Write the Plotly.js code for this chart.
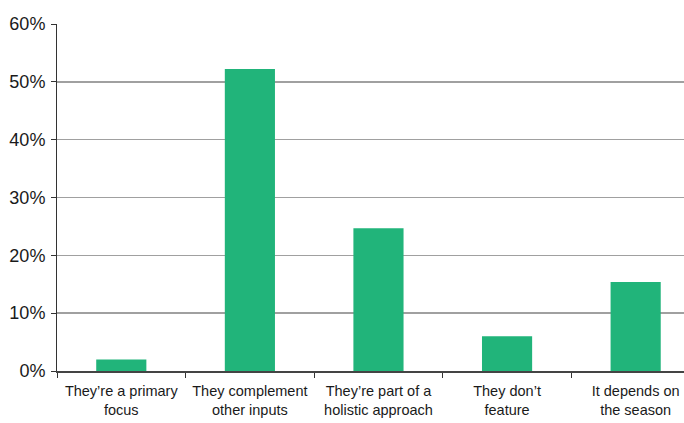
<!DOCTYPE html>
<html>
<head>
<meta charset="utf-8">
<script src="https://cdn.plot.ly/plotly-3.0.1.min.js"></script>
<style>html,body{margin:0;padding:0;background:#fff;}#chart{width:684px;height:423px;}</style>
</head>
<body>
<div id="chart"></div>
<script>
const categories = [
  "They’re a primary<br>focus",
  "They complement<br>other inputs",
  "They’re part of a<br>holistic approach",
  "They don’t<br>feature",
  "It depends on<br>the season"
];
const values = [0.02, 0.522, 0.247, 0.06, 0.154];
const yTickVals = [0, 0.1, 0.2, 0.3, 0.4, 0.5, 0.6];
const yTickText = ["0%", "10%", "20%", "30%", "40%", "50%", "60%"];

const trace = {
  type: 'bar',
  x: categories,
  y: values,
  marker: {color: '#21b47a'},
  hoverinfo: 'none'
};

const layout = {
  width: 684, height: 423,
  margin: {l: 57, r: 0, t: 24, b: 52},
  paper_bgcolor: '#fff', plot_bgcolor: '#fff',
  showlegend: false,
  bargap: 0.61,
  font: {family: 'Liberation Sans, Arial, sans-serif', color: '#222'},
  xaxis: {
    type: 'category',
    range: [-0.5, 4.376],
    tickson: 'boundaries',
    tickangle: 0,
    ticks: 'outside', ticklen: 5, tickcolor: '#333', tickwidth: 1,
    ticklabelstandoff: 6,
    showgrid: false,
    showline: true, linecolor: '#444', linewidth: 1.5,
    tickfont: {size: 14.5, color: '#1a1a1a'},
    automargin: false,
    fixedrange: true
  },
  yaxis: {
    range: [0, 0.6],
    tickvals: yTickVals, ticktext: yTickText,
    ticks: 'outside', ticklen: 5, tickcolor: '#333',
    ticklabelstandoff: 2,
    showgrid: true, gridcolor: '#a0a0a0', gridwidth: 1.5,
    showline: true, linecolor: '#333', linewidth: 1,
    zeroline: false,
    tickfont: {size: 18, color: '#1a1a1a'},
    automargin: false,
    fixedrange: true
  }
};

Plotly.newPlot('chart', [trace], layout, {displayModeBar: false, staticPlot: true});
</script>
</body>
</html>
